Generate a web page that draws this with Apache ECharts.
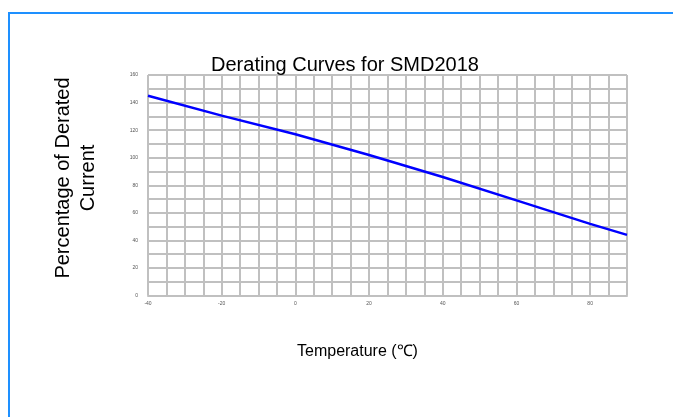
<!DOCTYPE html>
<html>
<head>
<meta charset="utf-8">
<script src="https://cdn.jsdelivr.net/npm/echarts@6/dist/echarts.min.js"></script>
<style>
html,body{margin:0;padding:0;background:#fff;}
#frame{position:absolute;left:8px;top:12px;width:680px;height:420px;border-left:2px solid #1e90ff;border-top:2px solid #1e90ff;}
#chart{position:absolute;left:0;top:0;width:673px;height:417px;}
</style>
</head>
<body>
<div id="frame"></div>
<div id="chart"></div>
<script>
const temperatures = [-40, -20, 0, 20, 40, 60, 80, 90];
const percentages = [145, 130.5, 117, 102, 86, 69, 52, 44];
const titleText = 'Derating Curves for SMD2018';
const xName = 'Temperature (\u2103)';
const yName = 'Percentage of Derated\nCurrent';

const chart = echarts.init(document.getElementById('chart'));
const font = '"Liberation Sans", Arial, Helvetica, sans-serif';
chart.setOption({
  animation: false,
  backgroundColor: 'transparent',
  title: {
    text: titleText, left: 340, top: 50, textAlign: 'center',
    textStyle: {fontFamily: font, fontSize: 20, fontWeight: 'normal', color: '#000'}
  },
  grid: {left: 148, right: 46, top: 75, bottom: 121.5, containLabel: false, show: false},
  xAxis: {
    type: 'value', min: -40, max: 90, interval: 5,
    axisLine: {show: true, lineStyle: {color: '#c0c0c0', width: 2}},
    axisTick: {show: false},
    axisLabel: {fontSize: 5, color: '#555', fontFamily: font, margin: 6,
      formatter: v => (v % 20 === 0 ? String(v) : '')},
    splitLine: {show: true, lineStyle: {color: '#c0c0c0', width: 2}}
  },
  yAxis: {
    type: 'value', min: 0, max: 160, interval: 10,
    axisLine: {show: true, lineStyle: {color: '#c0c0c0', width: 2}},
    axisTick: {show: false},
    axisLabel: {fontSize: 5, color: '#555', fontFamily: font, margin: 10,
      formatter: v => (v % 20 === 0 ? String(v) : '')},
    splitLine: {show: true, lineStyle: {color: '#c0c0c0', width: 2}}
  },
  graphic: [
    {type: 'text', left: 357 - 60, top: 344,
      style: {text: xName, fontFamily: font, fontSize: 16, fill: '#000', width: 120, align: 'center'}},
    {type: 'text', x: 76, y: 178, rotation: Math.PI / 2,
      style: {text: yName, fontFamily: font, fontSize: 20, fill: '#000', align: 'center', verticalAlign: 'middle', lineHeight: 25}}
  ],
  series: [{
    type: 'line',
    data: temperatures.map((t, i) => [t, percentages[i]]),
    showSymbol: false,
    lineStyle: {color: '#0000ff', width: 2.5},
    z: 5
  }]
});
</script>
</body>
</html>
